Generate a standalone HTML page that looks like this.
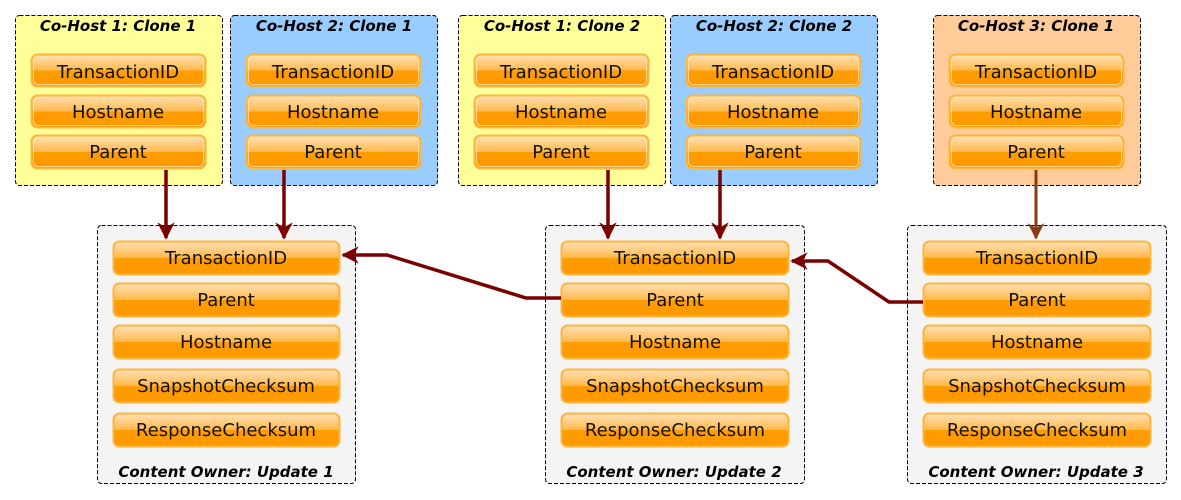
<!DOCTYPE html>
<html><head><meta charset="utf-8"><style>
html,body{margin:0;padding:0;background:#fff;}
svg{display:block;}
.bt{font-family:"DejaVu Sans","Liberation Sans",sans-serif;font-size:18px;fill:#111;text-anchor:middle;}
.tt{font-family:"DejaVu Sans","Liberation Sans",sans-serif;font-size:15px;font-weight:bold;font-style:italic;fill:#000;text-anchor:middle;}
</style></head><body>
<svg width="1181" height="500" viewBox="0 0 1181 500" xmlns="http://www.w3.org/2000/svg">
<defs>
<linearGradient id="g" x1="0" y1="0" x2="0" y2="1">
<stop offset="0" stop-color="#ffe2b8"/>
<stop offset="0.5" stop-color="#ffb84a"/>
<stop offset="0.5" stop-color="#ff9c00"/>
<stop offset="1" stop-color="#ff9a00"/>
</linearGradient>
<marker id="a" viewBox="0 0 10 10" refX="9" refY="5" markerWidth="5" markerHeight="5" orient="auto"><path d="M0,0 L10,5 L0,10 L3,5 z" fill="#7a0000"/></marker>
<marker id="b" viewBox="0 0 10 10" refX="9" refY="5" markerWidth="5.5" markerHeight="5.5" orient="auto"><path d="M0,0 L10,5 L0,10 L3,5 z" fill="#8b3a0f"/></marker>
</defs>

<g stroke="#000" stroke-dasharray="4,2" stroke-width="1">
<rect x="15.5" y="15.5" width="207" height="170" rx="4" fill="#ffff99"/>
<rect x="230.5" y="15.5" width="207" height="170" rx="4" fill="#99ccff"/>
<rect x="458.5" y="15.5" width="207" height="170" rx="4" fill="#ffff99"/>
<rect x="670.5" y="15.5" width="207" height="170" rx="4" fill="#99ccff"/>
<rect x="933.5" y="15.5" width="207" height="170" rx="4" fill="#ffcc99"/>
<rect x="97.5" y="225.5" width="258" height="258" rx="4" fill="#f4f4f4"/>
<rect x="545.5" y="225.5" width="259" height="258" rx="4" fill="#f4f4f4"/>
<rect x="907.5" y="225.5" width="259" height="258" rx="4" fill="#f4f4f4"/>
</g>

<text class="tt" x="118" y="31">Co-Host 1: Clone 1</text>
<text class="tt" x="334" y="31">Co-Host 2: Clone 1</text>
<text class="tt" x="562" y="31">Co-Host 1: Clone 2</text>
<text class="tt" x="774" y="31">Co-Host 2: Clone 2</text>
<text class="tt" x="1036" y="31">Co-Host 3: Clone 1</text>
<text class="tt" x="226" y="477">Content Owner: Update 1</text>
<text class="tt" x="674" y="477">Content Owner: Update 2</text>
<text class="tt" x="1036" y="477">Content Owner: Update 3</text>

<g stroke="#ffb43c" stroke-width="2" fill="url(#g)">
<rect x="31.5" y="54.5" width="174" height="32" rx="6"/><rect x="31.5" y="95.5" width="174" height="32" rx="6"/><rect x="31.5" y="135.5" width="174" height="33" rx="6"/>
<rect x="246.5" y="54.5" width="174" height="32" rx="6"/><rect x="246.5" y="95.5" width="174" height="32" rx="6"/><rect x="246.5" y="135.5" width="174" height="33" rx="6"/>
<rect x="474.5" y="54.5" width="174" height="32" rx="6"/><rect x="474.5" y="95.5" width="174" height="32" rx="6"/><rect x="474.5" y="135.5" width="174" height="33" rx="6"/>
<rect x="686.5" y="54.5" width="174" height="32" rx="6"/><rect x="686.5" y="95.5" width="174" height="32" rx="6"/><rect x="686.5" y="135.5" width="174" height="33" rx="6"/>
<rect x="949.5" y="54.5" width="174" height="32" rx="6"/><rect x="949.5" y="95.5" width="174" height="32" rx="6"/><rect x="949.5" y="135.5" width="174" height="33" rx="6"/>
<rect x="113.5" y="241.5" width="226" height="33" rx="6"/><rect x="113.5" y="283.5" width="226" height="33" rx="6"/><rect x="113.5" y="325.5" width="226" height="33" rx="6"/><rect x="113.5" y="369.5" width="226" height="33" rx="6"/><rect x="113.5" y="413.5" width="226" height="33" rx="6"/>
<rect x="561.5" y="241.5" width="227" height="33" rx="6"/><rect x="561.5" y="283.5" width="227" height="33" rx="6"/><rect x="561.5" y="325.5" width="227" height="33" rx="6"/><rect x="561.5" y="369.5" width="227" height="33" rx="6"/><rect x="561.5" y="413.5" width="227" height="33" rx="6"/>
<rect x="923.5" y="241.5" width="227" height="33" rx="6"/><rect x="923.5" y="283.5" width="227" height="33" rx="6"/><rect x="923.5" y="325.5" width="227" height="33" rx="6"/><rect x="923.5" y="369.5" width="227" height="33" rx="6"/><rect x="923.5" y="413.5" width="227" height="33" rx="6"/>
</g>
<g stroke="#ffe3b0" stroke-width="0.8" fill="none">
<rect x="33.5" y="56.5" width="170" height="28" rx="5"/><rect x="33.5" y="97.5" width="170" height="28" rx="5"/><rect x="33.5" y="137.5" width="170" height="29" rx="5"/>
<rect x="248.5" y="56.5" width="170" height="28" rx="5"/><rect x="248.5" y="97.5" width="170" height="28" rx="5"/><rect x="248.5" y="137.5" width="170" height="29" rx="5"/>
<rect x="476.5" y="56.5" width="170" height="28" rx="5"/><rect x="476.5" y="97.5" width="170" height="28" rx="5"/><rect x="476.5" y="137.5" width="170" height="29" rx="5"/>
<rect x="688.5" y="56.5" width="170" height="28" rx="5"/><rect x="688.5" y="97.5" width="170" height="28" rx="5"/><rect x="688.5" y="137.5" width="170" height="29" rx="5"/>
<rect x="951.5" y="56.5" width="170" height="28" rx="5"/><rect x="951.5" y="97.5" width="170" height="28" rx="5"/><rect x="951.5" y="137.5" width="170" height="29" rx="5"/>
</g>

<g class="bt">
<text x="118" y="78">TransactionID</text><text x="118" y="118">Hostname</text><text x="118" y="158">Parent</text>
<text x="333" y="78">TransactionID</text><text x="333" y="118">Hostname</text><text x="333" y="158">Parent</text>
<text x="561" y="78">TransactionID</text><text x="561" y="118">Hostname</text><text x="561" y="158">Parent</text>
<text x="773" y="78">TransactionID</text><text x="773" y="118">Hostname</text><text x="773" y="158">Parent</text>
<text x="1036" y="78">TransactionID</text><text x="1036" y="118">Hostname</text><text x="1036" y="158">Parent</text>

<text x="226" y="264">TransactionID</text><text x="226" y="306">Parent</text><text x="226" y="348">Hostname</text><text x="226" y="392">SnapshotChecksum</text><text x="226" y="436">ResponseChecksum</text>
<text x="675" y="264">TransactionID</text><text x="675" y="306">Parent</text><text x="675" y="348">Hostname</text><text x="675" y="392">SnapshotChecksum</text><text x="675" y="436">ResponseChecksum</text>
<text x="1037" y="264">TransactionID</text><text x="1037" y="306">Parent</text><text x="1037" y="348">Hostname</text><text x="1037" y="392">SnapshotChecksum</text><text x="1037" y="436">ResponseChecksum</text>
</g>

<g fill="none" stroke="#7a0000" stroke-width="3.5">
<path d="M166,170 V238" marker-end="url(#a)"/>
<path d="M284,170 V238" marker-end="url(#a)"/>
<path d="M608,170 V238" marker-end="url(#a)"/>
<path d="M720,170 V238" marker-end="url(#a)"/>
<path d="M561,298 H526 L387,255 H343" marker-end="url(#a)"/>
<path d="M923,302 H889 L828,261 H792" marker-end="url(#a)"/>
</g>
<path d="M1036,170 V238" fill="none" stroke="#8b3a0f" stroke-width="3" marker-end="url(#b)"/>
</svg>
</body></html>
